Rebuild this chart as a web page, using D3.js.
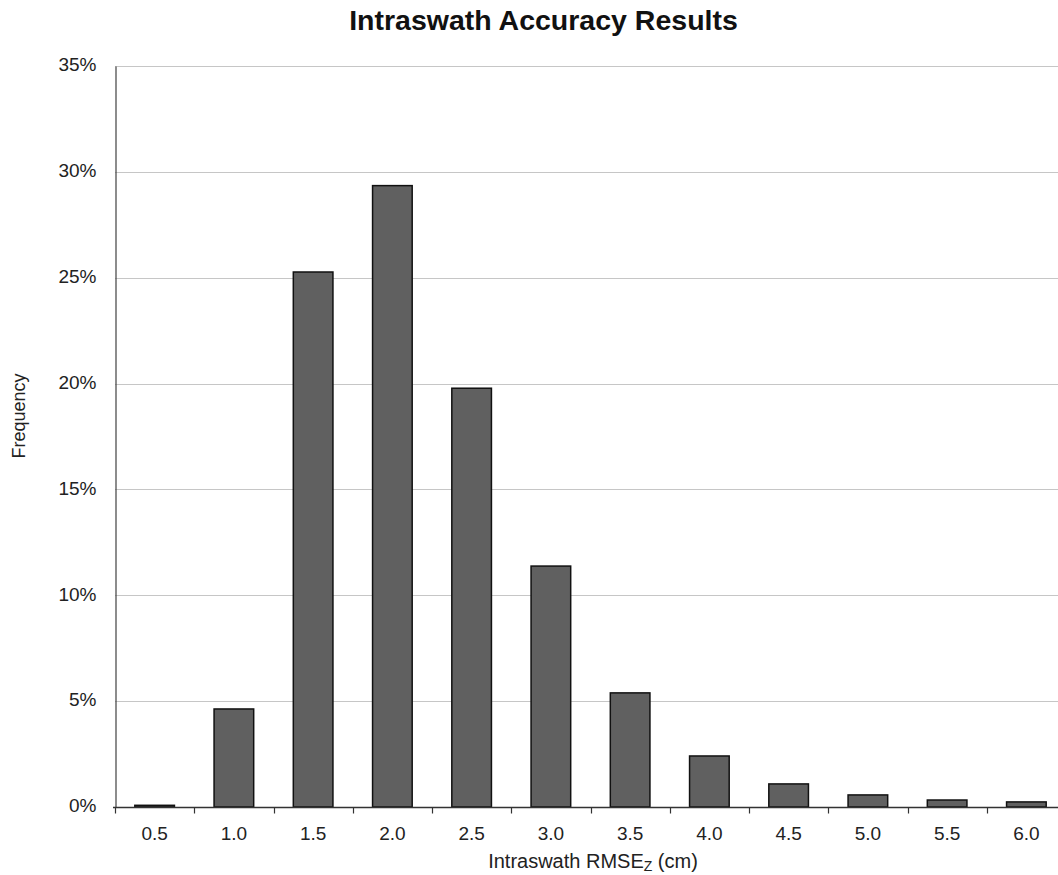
<!DOCTYPE html>
<html>
<head>
<meta charset="utf-8">
<script src="https://cdn.jsdelivr.net/npm/d3@7"></script>
<style>
  html, body { margin: 0; padding: 0; background: #fff; }
  svg { display: block; font-family: "Liberation Sans", Arial, sans-serif; }
</style>
</head>
<body>
<svg id="chart" width="1058" height="875"></svg>
<script>
const categories = ["0.5", "1.0", "1.5", "2.0", "2.5", "3.0", "3.5", "4.0", "4.5", "5.0", "5.5", "6.0"];
const frequency = [0.08, 4.63, 25.27, 29.35, 19.78, 11.38, 5.39, 2.41, 1.09, 0.57, 0.33, 0.24];
const yTicks = [0, 5, 10, 15, 20, 25, 30, 35];
const titleText = "Intraswath Accuracy Results";
const yTitle = "Frequency";

const svg = d3.select("#chart");
const margin = { left: 115, right: -8, top: 66, bottom: 68 };
const W = 1058, H = 875;
const x0 = margin.left, x1 = W - margin.right;
const y0 = H - margin.bottom, y1 = margin.top;

const x = d3.scaleBand().domain(categories).range([x0, x1]).paddingInner(0.5).paddingOuter(0.25);
const xEdges = d3.scaleBand().domain(categories).range([x0, x1]).padding(0);
const y = d3.scaleLinear().domain([0, 35]).range([y0, y1]);

// gridlines
svg.append("g").selectAll("line").data(yTicks.filter(d => d > 0)).join("line")
  .attr("x1", x0).attr("x2", x1)
  .attr("y1", d => Math.round(y(d)) + 0.5).attr("y2", d => Math.round(y(d)) + 0.5)
  .attr("stroke", "#c6c6c6").attr("stroke-width", 1);

// bars
svg.append("g").selectAll("rect").data(categories.map((c, i) => ({ c, v: frequency[i] }))).join("rect")
  .attr("x", d => x(d.c))
  .attr("width", x.bandwidth())
  .attr("y", d => y(d.v))
  .attr("height", d => y0 - y(d.v))
  .attr("fill", "#606060")
  .attr("stroke", "#111")
  .attr("stroke-width", 1.5);

// y axis
const yAxis = d3.axisLeft(y).tickValues(yTicks).tickFormat(d => d + "%").tickSize(0).tickPadding(19);
const gy = svg.append("g").attr("transform", `translate(${x0 + 0.5},0)`).call(yAxis);
gy.select(".domain").attr("stroke", "#404040").attr("stroke-width", 1.2);
gy.selectAll("text").attr("font-size", 19).attr("fill", "#222").attr("dy", "0.25em")
  .attr("font-family", "'Liberation Sans', Arial, sans-serif");

// x axis
const gx = svg.append("g").attr("transform", `translate(0,${Math.round(y0) + 0.5})`);
gx.append("line").attr("x1", x0 - 2).attr("x2", x1).attr("stroke", "#333").attr("stroke-width", 1.3);
gx.selectAll("line.tick").data(categories.concat(["_end"])).join("line").attr("class", "tick")
  .attr("x1", (d, i) => Math.round(x0 + i * xEdges.bandwidth()) + 0.5)
  .attr("x2", (d, i) => Math.round(x0 + i * xEdges.bandwidth()) + 0.5)
  .attr("y1", 0).attr("y2", 6).attr("stroke", "#333").attr("stroke-width", 1.2);
gx.selectAll("text").data(categories).join("text")
  .attr("x", d => x(d) + x.bandwidth() / 2)
  .attr("y", 32)
  .attr("text-anchor", "middle")
  .attr("font-size", 19).attr("fill", "#222")
  .text(d => d);

// title
svg.append("text").attr("x", 543.5).attr("y", 30).attr("text-anchor", "middle")
  .attr("font-size", 28.5).attr("font-weight", "bold").attr("fill", "#111").text(titleText);

// y title
svg.append("text").attr("transform", `translate(25,416) rotate(-90)`)
  .attr("text-anchor", "middle").attr("font-size", 18).attr("fill", "#222").text(yTitle);

// x title with subscript
const xt = svg.append("text").attr("x", 593).attr("y", 868).attr("text-anchor", "middle")
  .attr("font-size", 20).attr("fill", "#222");
xt.append("tspan").text("Intraswath RMSE");
xt.append("tspan").attr("font-size", 14).attr("dy", 3).text("Z");
xt.append("tspan").attr("dy", -3).text(" (cm)");
</script>
</body>
</html>
